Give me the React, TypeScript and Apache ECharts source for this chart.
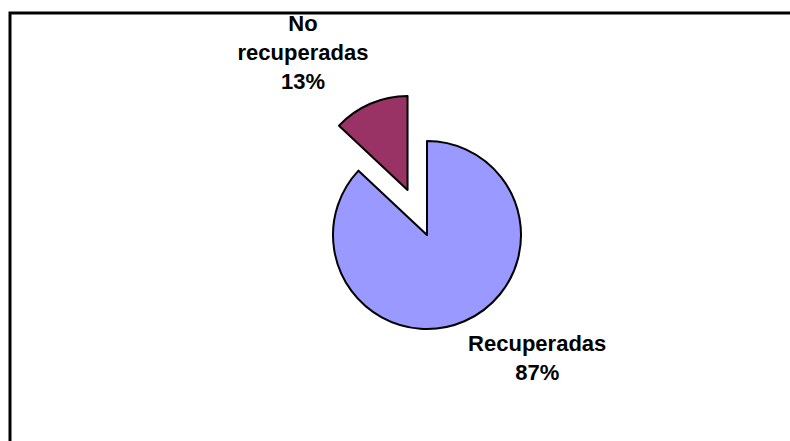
import React, { useEffect, useRef } from "react";
import * as echarts from "echarts";

const categories = ["Recuperadas", "No recuperadas"];
const values = [87, 13];
const colors = ["#9999FF", "#993366"];
const selectedFlags = [false, true];
const labelLengths = [40, 56];
const labelLengths2 = [52, 40];

export default function App() {
  const ref = useRef<HTMLDivElement>(null);
  useEffect(() => {
    document.body.style.margin = "0";
    const chart = echarts.init(ref.current!, null, { renderer: "svg" });
    const data = categories.map((name, i) => ({
      name,
      value: values[i],
      selected: selectedFlags[i],
      itemStyle: { color: colors[i] },
      select: { itemStyle: { color: colors[i], borderColor: "#000", borderWidth: 2 } },
      labelLine: { show: false, length: labelLengths[i], length2: labelLengths2[i] },
    }));
    chart.setOption({
      animation: false,
      backgroundColor: "#ffffff",
      graphic: [
        {
          type: "rect",
          shape: { x: 10, y: 13, width: 900, height: 600 },
          style: { fill: "none", stroke: "#000", lineWidth: 3 },
          silent: true,
        },
      ],
      series: [
        {
          type: "pie",
          center: [427, 235],
          radius: 94,
          startAngle: 90,
          clockwise: true,
          avoidLabelOverlap: false,
          selectedMode: "single",
          selectedOffset: 49,
          percentPrecision: 0,
          itemStyle: { borderColor: "#000", borderWidth: 2 },
          emphasis: { disabled: true },
          label: {
            show: true,
            position: "outside",
            color: "#000",
            fontFamily: "Liberation Sans, Arial, sans-serif",
            fontWeight: "bold",
            fontSize: 22,
            lineHeight: 29,
            formatter: (p: any) => `${p.name.replace(" ", "\n")}\n${p.percent}%`,
          },
          labelLayout: () => ({ align: "center", verticalAlign: "middle" }),
          data,
        },
      ],
    });
    return () => chart.dispose();
  }, []);
  return <div ref={ref} style={{ width: 790, height: 441 }} />;
}
